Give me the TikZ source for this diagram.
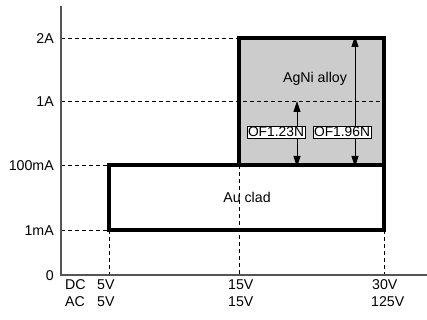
\documentclass[tikz,border=0pt]{standalone}
\usepackage{fontspec}
\setmainfont{Liberation Sans}
\usetikzlibrary{arrows.meta}
\definecolor{boxgray}{HTML}{CCCCCC}
\definecolor{axisgray}{HTML}{555555}
\tikzset{
  lbl/.style={font=\fontsize{14.2}{15}\selectfont, inner sep=0pt, text height=10.2pt, text depth=0pt},
  flag/.style={font=\fontsize{13.8}{15}\selectfont, draw=black, line width=0.6pt, fill=white, inner xsep=1.2pt, inner ysep=1pt, text height=9.9pt, text depth=0pt},
  axisline/.style={axisgray, line width=1.3pt},
  guide/.style={black, line width=0.7pt, dash pattern=on 4pt off 3pt},
  thickbox/.style={black, line width=4pt, line join=miter},
  dimarrow/.style={black, line width=1pt, {Triangle[length=11pt,width=7pt]}-{Triangle[length=11pt,width=7pt]}},
}
\begin{document}
\begin{tikzpicture}[x=1pt,y=-1pt]
\useasboundingbox (0,0) rectangle (427,320);
% key coordinates
\coordinate (origin) at (61,275);
\coordinate (ytop) at (61,6);
\coordinate (xend) at (427,275);
\coordinate (y2A) at (61,38);
\coordinate (y1A) at (61,101);
\coordinate (y100) at (61,165);
\coordinate (y1m) at (61,230);
\coordinate (x5) at (109,275);
\coordinate (x15) at (239,275);
\coordinate (x30) at (384,275);
\coordinate (agTL) at (239,38);
\coordinate (agTR) at (384,38);
\coordinate (agBR) at (384,165);
\coordinate (auTL) at (109,165);
\coordinate (auBL) at (109,230);
\coordinate (auBR) at (384,230);
\coordinate (oneA) at (384,101);
\coordinate (a1top) at (297,101);
\coordinate (a1bot) at (297,165);
\coordinate (a2top) at (355,38);
\coordinate (a2bot) at (355,165);
% gray fill
\fill[boxgray] (agTL) rectangle (agBR);
% guide lines
\draw[guide] (y2A) -- (agTL);
\draw[guide] (y1A) -- (oneA);
\draw[guide] (y100) -- (auTL);
\draw[guide] (y1m) -- (auBL);
\draw[guide] (auBL) -- (x5);
\draw[guide] (agTL |- auTL) -- (x15);
\draw[guide] (auBR) -- (x30);
% axes
\draw[axisline] (ytop) -- (origin) -- (xend);
% arrows
\draw[dimarrow] (a1top) -- ([yshift=-2pt]a1bot);
\draw[dimarrow] ([yshift=2pt]a2top) -- ([yshift=-2pt]a2bot);
% labels in boxes
\node[flag] (of1) at (276,132) {OF1.23N};
\node[flag] (of2) at (342,132) {OF1.96N};
\node[lbl] (agni) at (315,77) {AgNi alloy};
\node[lbl] (au) at (247,197) {Au clad};
% thick boxes
\draw[thickbox] (agTL) rectangle (agBR);
\draw[thickbox] (auTL) rectangle (auBR);
% y labels
\node[lbl, anchor=east] (l2A) at (54,38) {2A};
\node[lbl, anchor=east] (l1A) at (54,101) {1A};
\node[lbl, anchor=east] (l100) at (54,165) {100mA};
\node[lbl, anchor=east] (l1m) at (54,230) {1mA};
\node[lbl, anchor=east] (l0) at (54,275) {0};
% x labels
\node[lbl, anchor=west] (dc) at (65,284) {DC};
\node[lbl, anchor=west] (ac) at (65,301) {AC};
\node[lbl, anchor=west] (dc5) at (97,284) {5V};
\node[lbl, anchor=west] (ac5) at (97,301) {5V};
\node[lbl, anchor=west] (dc15) at (228,284) {15V};
\node[lbl, anchor=west] (ac15) at (228,301) {15V};
\node[lbl, anchor=west] (dc30) at (372,284) {30V};
\node[lbl, anchor=west] (ac125) at (371,301) {125V};
\end{tikzpicture}
\end{document}
